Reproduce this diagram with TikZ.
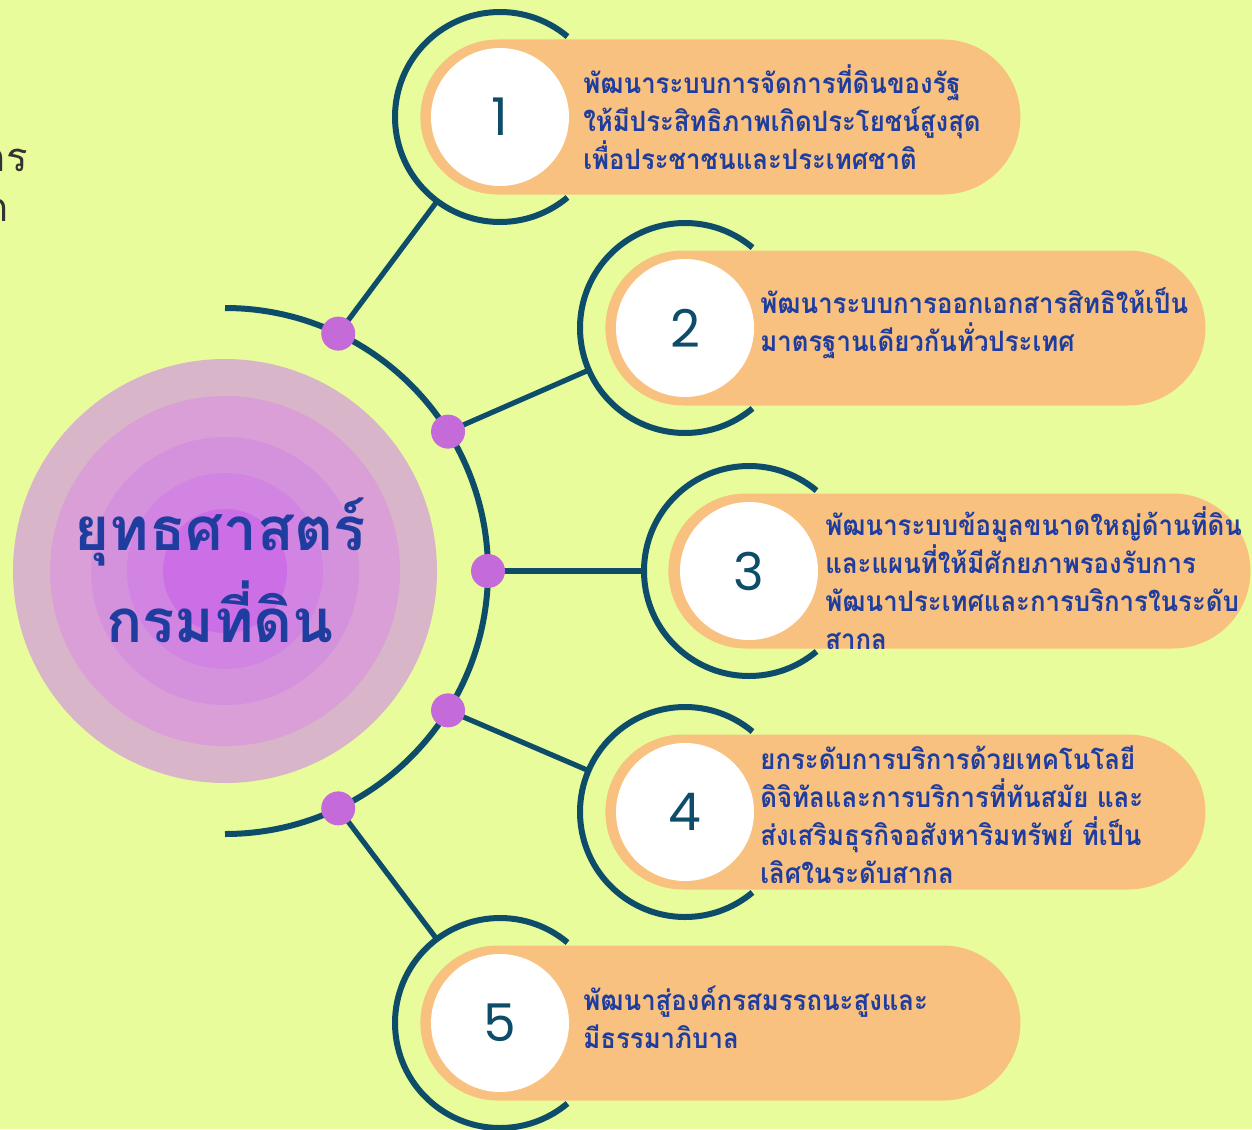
\documentclass[tikz,border=0pt]{standalone}
\usepackage{fontspec}
\newfontfamily\thaifont[Script=Thai]{Loma}
\newfontfamily\thaicond[Script=Thai, FakeStretch=0.92]{Loma}
\newfontfamily\numfont{Poppins}
\usetikzlibrary{calc}

\definecolor{bgcol}{HTML}{E9FC9B}
\definecolor{pillcol}{HTML}{F9C17F}
\definecolor{tealcol}{HTML}{0D4D6A}
\definecolor{dotcol}{HTML}{C56AD9}
\definecolor{bluecol}{HTML}{1F3D9E}
\definecolor{hubA}{HTML}{D8B5C8}
\definecolor{hubB}{HTML}{D99FD6}
\definecolor{hubC}{HTML}{D592DC}
\definecolor{hubD}{HTML}{D184E1}
\definecolor{hubE}{HTML}{CC6FE6}

\begin{document}
\begin{tikzpicture}[x=0.5pt, y=0.5pt,
    ringnode/.style={circle, minimum size=105pt, inner sep=0pt, outer sep=0pt},
    ringline/.style={draw=tealcol, line width=3pt},
    link/.style={draw=tealcol, line width=2.6pt},
    knot/.style={circle, fill=dotcol, minimum size=17pt, inner sep=0pt},
    pill/.style={fill=pillcol, rounded corners=38.7pt, minimum height=77.5pt, inner sep=0pt, anchor=west},
    disc/.style={circle, fill=white, minimum size=69pt, inner sep=0pt, text=tealcol, font=\numfont\fontsize{26}{30}\selectfont},
    goal/.style={anchor=west, align=left, inner sep=0pt, text=bluecol, font=\thaicond\bfseries\fontsize{14}{19}\selectfont}]

    % --- Page ---
    \fill[bgcol] (0,0) rectangle (1252,-1129);
    \useasboundingbox (0,0) rectangle (1252,-1129);

    % --- Cut-off text at the left edge ---
    \begin{scope}
        \clip (0,0) rectangle (1252,-1129);
        \node[anchor=east, inner sep=0pt, text=black!80, font=\thaifont\fontsize{20}{24}\selectfont] (cutA) at (28,-160) {กร};
        \node[anchor=east, inner sep=0pt, text=black!80, font=\thaifont\fontsize{20}{24}\selectfont] (cutB) at (9,-210) {ก};
    \end{scope}

    % --- Central hub ---
    \node[circle, fill=hubA, minimum size=212pt, inner sep=0pt] (hub) at (225,-571) {};
    \fill[hubB] (hub.center) circle (87.5pt);
    \fill[hubC] (hub.center) circle (67pt);
    \fill[hubD] (hub.center) circle (49pt);
    \fill[hubE] (hub.center) circle (31pt);
    \node[align=center, text=bluecol, font=\thaifont\bfseries\fontsize{30}{46}\selectfont] (title) at (220,-570) {ยุทธศาสตร์\\กรมที่ดิน};

    % --- Big arc around the hub ---
    \draw[ringline] ($(hub.center)+(90:263)$) arc[start angle=90, end angle=-90, radius=131.5pt];

    % --- Knots on the arc ---
    \coordinate (k1) at ($(hub.center)+(64.5:263)$);
    \coordinate (k2) at ($(hub.center)+(32:263)$);
    \coordinate (k3) at ($(hub.center)+(0:263)$);
    \coordinate (k4) at ($(hub.center)+(-32:263)$);
    \coordinate (k5) at ($(hub.center)+(-64.5:263)$);

    % --- Rings of the five items ---
    \node[ringnode] (ring1) at (500,-117) {};
    \node[ringnode] (ring2) at (685,-328) {};
    \node[ringnode] (ring3) at (749,-571) {};
    \node[ringnode] (ring4) at (685,-812) {};
    \node[ringnode] (ring5) at (500,-1023) {};

    % connectors first, knots on top
    \draw[link] (k1) -- (ring1);
    \draw[link] (k2) -- (ring2);
    \draw[link] (k3) -- (ring3);
    \draw[link] (k4) -- (ring4);
    \draw[link] (k5) -- (ring5);
    \node[knot] (dot1) at (k1) {};
    \node[knot] (dot2) at (k2) {};
    \node[knot] (dot3) at (k3) {};
    \node[knot] (dot4) at (k4) {};
    \node[knot] (dot5) at (k5) {};

    \draw[ringline] (ring1.50) arc[start angle=50, end angle=310, radius=52.5pt];
    \draw[ringline] (ring2.50) arc[start angle=50, end angle=310, radius=52.5pt];
    \draw[ringline] (ring3.50) arc[start angle=50, end angle=310, radius=52.5pt];
    \draw[ringline] (ring4.50) arc[start angle=50, end angle=310, radius=52.5pt];
    \draw[ringline] (ring5.50) arc[start angle=50, end angle=310, radius=52.5pt];

    % --- Pills ---
    \node[pill, minimum width=300pt] (pill1) at (420,-117) {};
    \node[pill, minimum width=300pt] (pill2) at (605,-328) {};
    \node[pill, minimum width=291pt] (pill3) at (668,-571) {};
    \node[pill, minimum width=300pt] (pill4) at (605,-812) {};
    \node[pill, minimum width=300pt] (pill5) at (420,-1023) {};

    % --- Number discs ---
    \node[disc] (num1) at (ring1) {1};
    \node[disc] (num2) at (ring2) {2};
    \node[disc] (num3) at (ring3) {3};
    \node[disc] (num4) at (ring4) {4};
    \node[disc] (num5) at (ring5) {5};

    % --- Goal texts ---
    \node[goal] (goal1) at (583,-117) {พัฒนาระบบการจัดการที่ดินของรัฐ\\ให้มีประสิทธิภาพเกิดประโยชน์สูงสุด\\เพื่อประชาชนและประเทศชาติ};
    \node[goal] (goal2) at (760,-323) {พัฒนาระบบการออกเอกสารสิทธิให้เป็น\\มาตรฐานเดียวกันทั่วประเทศ};
    \node[goal] (goal3) at (825,-578) {พัฒนาระบบข้อมูลขนาดใหญ่ด้านที่ดิน\\และแผนที่ให้มีศักยภาพรองรับการ\\พัฒนาประเทศและการบริการในระดับ\\สากล};
    \node[goal] (goal4) at (760,-815) {ยกระดับการบริการด้วยเทคโนโลยี\\ดิจิทัลและการบริการที่ทันสมัย และ\\ส่งเสริมธุรกิจอสังหาริมทรัพย์ ที่เป็น\\เลิศในระดับสากล};
    \node[goal] (goal5) at (583,-1017) {พัฒนาสู่องค์กรสมรรถนะสูงและ\\มีธรรมาภิบาล};

\end{tikzpicture}
\end{document}
